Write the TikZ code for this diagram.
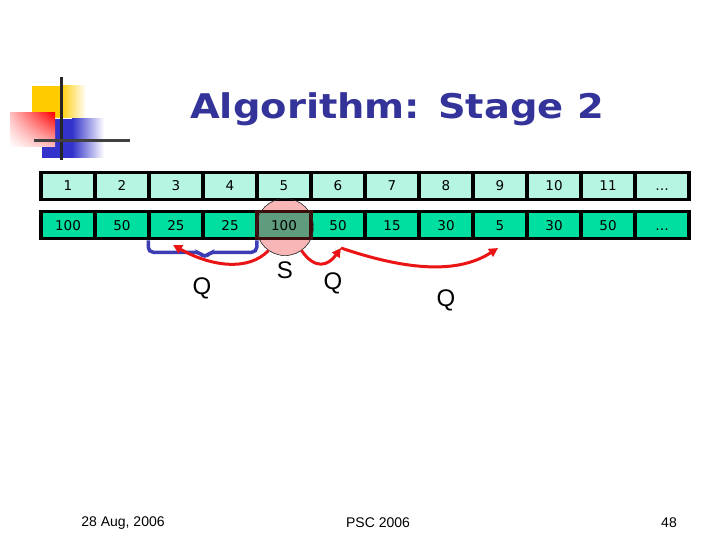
\documentclass[tikz,border=0pt]{standalone}
\usepackage{fontspec}
\setmainfont{DejaVu Sans}
\newfontfamily\titlefont[FakeStretch=1.13]{DejaVu Sans}
\newfontfamily\arialfont{Liberation Sans}
\usepackage{tikz}
\usetikzlibrary{positioning, arrows.meta, calc, shadings}
\definecolor{titleblue}{RGB}{51, 51, 153}
\definecolor{idxgreen}{RGB}{182, 245, 226}
\definecolor{valgreen}{RGB}{0, 222, 160}
\definecolor{pivgreen}{RGB}{95, 155, 125}
\definecolor{pivedge}{RGB}{60, 12, 12}
\definecolor{pivpink}{RGB}{248, 182, 182}
\definecolor{braceblue}{RGB}{60, 60, 180}
\definecolor{jumpred}{RGB}{235, 20, 20}
\definecolor{logoyellow}{RGB}{255, 204, 0}
\definecolor{logoblue}{RGB}{51, 51, 204}

\tikzset{
  cell/.style={draw=black, line width=3.5pt, minimum width=54pt, minimum height=27pt,
               inner sep=0pt, text height=10pt, text depth=0pt,
               font=\fontsize{13.5}{15}\selectfont},
  idxcell/.style={cell, fill=idxgreen},
  valcell/.style={cell, fill=valgreen},
  pivcell/.style={cell, fill=pivgreen, draw=pivedge},
  jump/.style={jumpred, line width=3pt, -{Triangle[length=9pt, width=9pt]}},
  brace/.style={braceblue, line width=3.5pt, rounded corners=5pt},
  qlabel/.style={font=\arialfont\fontsize{24}{28}\selectfont},
  footer/.style={font=\arialfont\fontsize{14}{16}\selectfont}
}

\begin{document}
\begin{tikzpicture}[x=1pt, y=-1pt]
  \useasboundingbox (0,0) rectangle (720,540);
  % logo
  \fill[logoyellow] (32,86) rectangle (60,118);
  \shade[left color=logoyellow, right color=white] (60,86) rectangle (86,118);
  \fill[logoblue] (42,119) rectangle (72,158);
  \shade[left color=logoblue, right color=white] (72,119) rectangle (104,158);
  \shade[upper left=red!25, upper right=red, lower left=white, lower right=red!25]
        (10,113) rectangle (55,147);
  \draw[black!85, line width=3pt] (61,77) -- (61,160);
  \draw[black!75, line width=3pt] (34,141) -- (130,141);
  % title
  \node[anchor=base, text=titleblue, font=\titlefont\fontsize{34}{40}\selectfont\bfseries]
        (title) at (397,119) {Algorithm: Stage 2};
  % pivot circle (behind the row)
  \node[circle, fill=pivpink, draw=black!80, thin, minimum size=57pt] (pivot) at (285,227) {};
  % index row
  \foreach \i/\t in {1/1, 2/2, 3/3, 4/4, 5/5, 6/6, 7/7, 8/8, 9/9, 10/10, 11/11, 12/\ldots}
    \node[idxcell] (idx\i) at ({14+54*\i},186) {\t};
  % value row
  \foreach \i/\v in {1/100, 2/50, 3/25, 4/25, 6/50, 7/15, 8/30, 9/5, 10/30, 11/50, 12/\ldots}
    \node[valcell] (val\i) at ({14+54*\i},225) {\v};
  \node[pivcell] (val5) at (284,225) {100};
  \draw[black!80, thin] (pivot.center) circle[radius=28.5pt];
  % brace under 3 and 4
  \draw[brace] ($(val3.south west)+(1,0)$) |- ($(val3.south east)+(-5,12)$)
        -- ($(val3.south east)+(0,18)$) -- ($(val3.south east)+(5,12)$)
        -| ($(val4.south east)+(-2,0)$);
  % jumps
  \coordinate (tipA) at (173,245);
  \coordinate (tipB) at (341,248);
  \coordinate (tipC) at (498,248);
  \draw[jump] (pivot.235) .. controls (248,272) and (210,266) .. (tipA);
  \draw[jump] (pivot.305) .. controls (315,270) and (328,266) .. (tipB);
  \draw[jump] (tipB) .. controls (400,268) and (455,276) .. (tipC);
  % labels
  \node[qlabel] (qone) at (202,288) {Q};
  \node[qlabel] (slab) at (285,270) {S};
  \node[qlabel] (qtwo) at (333,283) {Q};
  \node[qlabel] (qthree) at (446,300) {Q};
  % footer
  \node[footer] (date) at (123,523) {28 Aug, 2006};
  \node[footer] (conf) at (378,523) {PSC 2006};
  \node[footer] (page) at (669,523) {48};
\end{tikzpicture}
\end{document}
